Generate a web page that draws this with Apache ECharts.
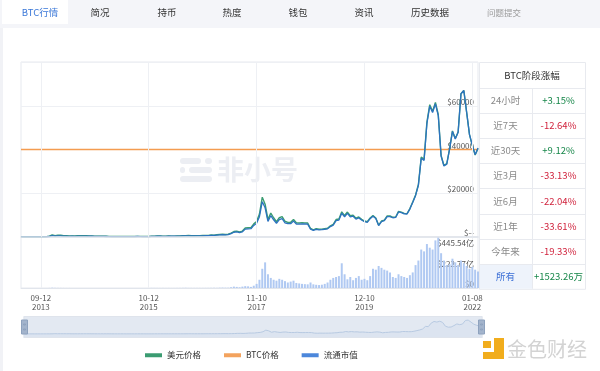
<!DOCTYPE html>
<html><head><meta charset="utf-8">
<script src="https://cdn.jsdelivr.net/npm/echarts@6/dist/echarts.min.js"></script>
<style>html,body{margin:0;padding:0;background:#fff}#c{width:600px;height:371px}</style>
</head><body><div id="c"></div>
<script>
// ---- data ----
const startDate = '2013-04-25';
const stepDays = 20;
const tickDates = ['2013-09-12','2015-10-12','2017-11-10','2019-12-10','2022-01-08'];

const priceUSD = [150,120,110,105,95,105,120,130,125,190,350,1000,650,850,800,600,630,460,500,440,
620,590,630,590,490,480,400,380,350,370,330,270,250,240,275,250,225,235,237,235,
260,290,265,230,230,245,310,360,430,430,380,375,435,410,420,450,440,580,650,670,
590,575,610,610,660,710,760,890,820,1010,1170,1250,1130,1250,1750,2500,2700,2350,2700,4100,
4200,4300,6000,7100,10500,18200,15000,8000,10900,8800,7000,8800,9300,7200,6700,6700,8000,6500,6400,6550,
6480,6400,3900,3250,3800,3550,3600,3800,4000,5100,5800,8000,8200,11500,9800,11400,9700,10000,8600,9150,
8100,7300,7000,8700,9800,8700,5400,7300,7700,9600,9600,9000,9150,11700,11400,10800,10700,13000,16000,19200,
24000,36500,35500,52500,60500,57500,61500,56000,37300,32700,33500,40400,48500,45000,48000,65500,67000,57000,46800,41800,
37500,40500];

const marketCap = [17,13,12,12,11,12,14,15,15,23,42,121,79,104,98,74,78,58,63,56,
79,76,81,76,64,63,53,51,47,50,45,37,34,33,38,35,32,33,34,33,
37,42,38,34,34,36,46,54,65,65,57,57,66,63,65,70,68,90,102,105,
93,91,97,97,105,114,122,143,132,163,190,203,184,204,286,410,444,387,446,678,
696,714,998,1184,1754,3047,2517,1346,1838,1487,1186,1494,1583,1228,1146,1148,1374,1118,1104,1132,
1122,1110,678,566,663,621,631,668,704,900,1025,1418,1456,2047,1747,2037,1736,1794,1546,1649,
1462,1321,1269,1580,1784,1587,987,1337,1413,1764,1766,1659,1688,2161,2108,1999,1983,2410,2970,3565,
4459,6789,6610,9786,11289,10735,11494,10478,6983,6128,6285,7583,9113,8465,9038,12347,12643,10767,8850,7913,
7106,7679];

const volume = [0.2,0.1,0.1,0.1,0.1,0.1,0.1,0.2,0.2,0.3,0.8,3,1.5,1,0.8,0.6,0.5,0.4,0.3,0.2,
0.3,0.2,0.2,0.2,0.2,0.2,0.3,0.2,0.2,0.2,0.2,0.3,0.3,0.2,0.2,0.2,0.2,0.1,0.2,0.2,
0.3,0.3,0.3,0.2,0.2,0.3,1,0.9,0.6,0.5,0.6,0.5,0.6,0.5,0.5,0.6,0.9,1.5,2,1,
0.8,0.7,0.7,0.8,0.9,1,1.1,1.5,2,1.5,3,4,3,3,8,15,12,8,15,20,
18,12,25,45,90,210,280,150,110,90,80,100,90,75,60,70,80,55,50,45,
42,40,60,40,35,32,36,45,60,90,110,120,130,270,150,95,120,85,110,130,
90,100,85,130,210,200,240,220,200,190,170,120,110,150,130,120,110,140,170,250,
300,420,400,480,440,420,520,560,380,300,250,260,320,280,250,300,270,240,210,230,
200,180];

const btcInBtc = 1;               // price of BTC quoted in BTC
const priceAxisMax = 80000, priceAxisStep = 20000;
const mcapAxisMax = 15100;
const volAxisMax = 557, volAxisStep = 222.77;

const tabs = ['BTC行情','简况','持币','热度','钱包','资讯','历史数据','问题提交'];
const periodLabels = ['24小时','近7天','近30天','近3月','近6月','近1年','今年来','所有'];
const periodChanges = ['+3.15%','-12.64%','+9.12%','-33.13%','-22.04%','-33.61%','-19.33%','+1523.26万'];

// ---- derived ----
const t0 = Date.UTC(+startDate.slice(0,4), +startDate.slice(5,7)-1, +startDate.slice(8,10));
const dates = priceUSD.map((_, i) => new Date(t0 + i*stepDays*86400000).toISOString().slice(0,10));
const btcSeries = priceUSD.map(() => btcInBtc);
const isTick = (idx, val) => tickDates.indexOf(val) >= 0;

const FONT = "'Noto Sans CJK SC', 'Noto Sans', sans-serif";
const GRID_LINE = '#eef0f4';

// ---- graphics (tabs, table, watermark, logo) ----
const g = [];
g.push({type:'rect', shape:{x:0,y:0,width:600,height:28}, style:{fill:'#f4f5f9'}, z:0});
g.push({type:'rect', shape:{x:2,y:0,width:66,height:24}, style:{fill:'#ffffff'}, z:1});
g.push({type:'rect', shape:{x:0,y:28,width:3,height:343}, style:{fill:'#f1f2f6'}, z:0});
const tabX = [40,100,167,232,298,364,430,504];
tabs.forEach((t, i) => {
  g.push({type:'text', x:tabX[i], y:12.5, z:2, style:{text:t, align:'center', verticalAlign:'middle',
    fontSize: i===7 ? 8.5 : 9.5, fontFamily: FONT,
    fill: i===0 ? '#3b78d8' : (i===7 ? '#9a9a9a' : '#333333')}});
});
// watermark
const wm = [[180,158,21],[205,158,7],[180,167,5],[189,167,23],[180,176,32]];
wm.forEach(r => g.push({type:'rect', z:1, shape:{x:r[0],y:r[1],width:r[2],height:6,r:3}, style:{fill:'#eceef3'}}));
g.push({type:'text', x:217, y:170, z:1, style:{text:'非小号', verticalAlign:'middle', fontSize:27, fontWeight:'bold', fontFamily:FONT, fill:'#eceef3'}});
// table
const TX = 479, TW = 106, CX = 532, TT = 62, HH = 26, RH = 25.1;
g.push({type:'rect', z:3, shape:{x:TX+0.5,y:TT+0.5,width:TW,height:HH+RH*8}, style:{fill:'#fff', stroke:'#e8eaef', lineWidth:1}});
g.push({type:'text', x:(TX+TX+TW)/2, y:TT+HH/2, z:4, style:{text:'BTC阶段涨幅', align:'center', verticalAlign:'middle', fontSize:9.5, fontFamily:FONT, fill:'#333'}});
periodLabels.forEach((lab, k) => {
  const y0 = TT + HH + k*RH;
  const last = k === periodLabels.length-1;
  if (last) g.push({type:'rect', z:3, shape:{x:TX+1,y:y0+1,width:CX-TX-1,height:RH-1}, style:{fill:'#eef3fb'}});
  g.push({type:'line', z:4, shape:{x1:TX,y1:Math.round(y0)+0.5,x2:TX+TW,y2:Math.round(y0)+0.5}, style:{stroke:'#e8eaef', lineWidth:1}});
  g.push({type:'text', x:(TX+CX)/2, y:y0+RH/2, z:4, style:{text:lab, align:'center', verticalAlign:'middle', fontSize:9.5, fontFamily:FONT, fill: last ? '#3b6fd6' : '#8a8a8a'}});
  const v = periodChanges[k];
  g.push({type:'text', x:(CX+TX+TW)/2, y:y0+RH/2, z:4, style:{text:v, align:'center', verticalAlign:'middle', fontSize:9.5, fontFamily:FONT, fill: v[0]==='-' ? '#d0223c' : '#17874a'}});
});
g.push({type:'line', z:4, shape:{x1:CX+0.5,y1:TT+HH,x2:CX+0.5,y2:TT+HH+RH*8}, style:{stroke:'#e8eaef', lineWidth:1}});
// logo
g.push({type:'rect', z:3, shape:{x:483,y:341,width:8,height:7}, style:{fill:'#f1ad1d'}});
g.push({type:'rect', z:3, shape:{x:494,y:338,width:10,height:21}, style:{fill:'#f1ad1d'}});
g.push({type:'rect', z:3, shape:{x:483,y:352,width:21,height:7}, style:{fill:'#f1ad1d'}});
g.push({type:'text', x:507, y:349, z:3, style:{text:'金色财经', verticalAlign:'middle', fontSize:20, fontFamily:FONT, fill:'#d3d3d3'}});

// ---- chart ----
const chart = echarts.init(document.getElementById('c'), null, {renderer:'canvas'});
const xCommon = {
  type:'category', data: dates, boundaryGap:false,
  axisTick:{show:false},
  splitLine:{show:true, interval:isTick, lineStyle:{color:GRID_LINE}}
};
chart.setOption({
  animation:false,
  textStyle:{fontFamily:FONT},
  graphic: g,
  legend:{
    data:[{name:'美元价格'},{name:'BTC价格'},{name:'流通市值'}],
    left:145, top:351, padding:0, itemGap:23, itemWidth:17, itemHeight:4, icon:'rect',
    textStyle:{fontSize:8.5, color:'#333', fontFamily:FONT}
  },
  grid:[
    {left:21, right:122, top:62, height:175, show:true, borderColor:'#e6e9ef', borderWidth:1},
    {left:21, right:122, top:237, height:51, show:true, borderColor:'#e6e9ef', borderWidth:1}
  ],
  xAxis:[
    Object.assign({gridIndex:0, z:6, axisLabel:{show:false},
      axisLine:{show:true, lineStyle:{color:'#dfe3ea', width:1.6}}}, xCommon),
    Object.assign({gridIndex:1, axisLine:{show:true, lineStyle:{color:'#e1e5ec'}},
      axisLabel:{show:true, interval:isTick, fontSize:8, color:'#555', lineHeight:9, margin:5,
      formatter: v => v.slice(5) + '\n' + v.slice(0,4)}}, xCommon)
  ],
  yAxis:[
    {gridIndex:0, type:'value', position:'right', min:0, max:priceAxisMax, interval:priceAxisStep,
     axisLine:{show:false}, axisTick:{show:false},
     splitLine:{show:true, lineStyle:{color:GRID_LINE}},
     axisLabel:{inside:true, verticalAlign:'bottom', margin:4, fontSize:8, color:'#555', showMaxLabel:false,
       formatter: v => v === 0 ? '$--' : '$' + v}},
    {gridIndex:0, type:'value', show:false, min:0, max:2*btcInBtc},
    {gridIndex:0, type:'value', show:false, min:0, max:mcapAxisMax},
    {gridIndex:1, type:'value', position:'right', min:0, max:volAxisMax, interval:volAxisStep,
     axisLine:{show:false}, axisTick:{show:false}, splitLine:{show:false},
     axisLabel:{inside:true, verticalAlign:'bottom', margin:4, fontSize:8, color:'#555', showMaxLabel:false,
       formatter: v => v === 0 ? '$0' : '$' + v.toFixed(2) + '亿'}}
  ],
  dataZoom:[{
    type:'slider', xAxisIndex:[0,1], start:0, end:100,
    left:21, right:120, top:316, height:22,
    showDetail:false, brushSelect:false, moveHandleSize:0,
    backgroundColor:'transparent', borderColor:'#dfe4ec',
    fillerColor:'rgba(204,215,232,0.55)',
    handleIcon:'path://M0,0 L6,0 L6,14 L0,14 Z M2,4 L4,4 L4,5 L2,5 Z M2,9 L4,9 L4,10 L2,10 Z',
    handleSize:14,
    handleStyle:{color:'#a3b4cc', borderColor:'#8ea2be'},
    dataBackground:{lineStyle:{color:'#9fbadb', width:1}, areaStyle:{color:'#c8d7ea'}},
    selectedDataBackground:{lineStyle:{color:'#9fbadb', width:1}, areaStyle:{color:'#c8d7ea'}}
  }],
  series:[
    {name:'美元价格', type:'line', xAxisIndex:0, yAxisIndex:0, data:priceUSD, symbol:'none',
     itemStyle:{color:'#3b9c72'}, lineStyle:{color:'#3b9c72', width:1.4}, z:3},
    {name:'BTC价格', type:'line', xAxisIndex:0, yAxisIndex:1, data:btcSeries, symbol:'none',
     itemStyle:{color:'#f3a35e'}, lineStyle:{color:'#f49c50', width:1.3}, z:2},
    {name:'流通市值', type:'line', xAxisIndex:0, yAxisIndex:2, data:marketCap, symbol:'none',
     itemStyle:{color:'#4c87db'}, lineStyle:{color:'#2c73c0', width:1.3}, z:4},
    {name:'成交额', type:'bar', xAxisIndex:1, yAxisIndex:3, data:volume, barWidth:'70%',
     itemStyle:{color:'#b0c9f2'}}
  ]
});
</script></body></html>
